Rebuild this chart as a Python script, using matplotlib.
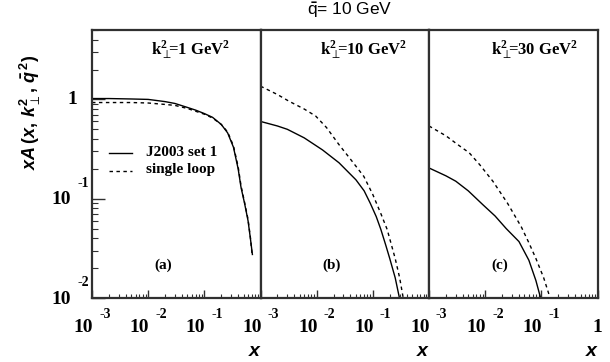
import matplotlib
matplotlib.use('Agg')
import matplotlib.pyplot as plt
import matplotlib.transforms as mtransforms
from matplotlib.lines import Line2D
from matplotlib.ticker import LogLocator, NullFormatter

plt.rcParams['mathtext.fontset'] = 'custom'
plt.rcParams['mathtext.rm'] = 'Liberation Sans:bold'
plt.rcParams['mathtext.it'] = 'Liberation Sans:bold:italic'
plt.rcParams['mathtext.bf'] = 'Liberation Serif:bold'
plt.rcParams['mathtext.sf'] = 'Liberation Sans'

# ---------------- data ----------------
panel_labels = ['(a)', '(b)', '(c)']
kt2_values = ['1', '10', '30']
series_names = ['J2003 set 1', 'single loop']

# panel (a) k_T^2 = 1 GeV^2
xa_j2003 = [0.001, 0.002, 0.005, 0.01, 0.02, 0.03, 0.05, 0.07, 0.1, 0.14, 0.2, 0.26, 0.33, 0.4, 0.45, 0.52, 0.6, 0.66, 0.72]
ya_j2003 = [1.02, 1.02, 1.01, 1.0, 0.95, 0.91, 0.83, 0.78, 0.72, 0.66, 0.56, 0.46, 0.33, 0.2, 0.13, 0.09, 0.06, 0.04, 0.027]
xa_loop = [0.001, 0.002, 0.005, 0.01, 0.02, 0.03, 0.05, 0.07, 0.1, 0.14, 0.2, 0.26, 0.33, 0.4, 0.45, 0.52, 0.6, 0.66, 0.71]
ya_loop = [0.93, 0.93, 0.93, 0.92, 0.89, 0.87, 0.81, 0.76, 0.71, 0.65, 0.56, 0.47, 0.34, 0.21, 0.135, 0.092, 0.062, 0.041, 0.027]

# panel (b) k_T^2 = 10 GeV^2
xb_j2003 = [0.001, 0.002, 0.003, 0.006, 0.0127, 0.025, 0.05, 0.07, 0.09, 0.115, 0.139, 0.17, 0.2, 0.25, 0.3]
yb_j2003 = [0.60, 0.54, 0.50, 0.41, 0.31, 0.23, 0.155, 0.12, 0.09, 0.066, 0.049, 0.034, 0.025, 0.016, 0.0098]
xb_loop = [0.001, 0.002, 0.0032, 0.006, 0.0096, 0.015, 0.025, 0.04, 0.069, 0.1, 0.14, 0.18, 0.25, 0.3, 0.35]
yb_loop = [1.36, 1.12, 0.96, 0.80, 0.68, 0.52, 0.35, 0.25, 0.168, 0.11, 0.07, 0.049, 0.025, 0.016, 0.0098]

# panel (c) k_T^2 = 30 GeV^2
xc_j2003 = [0.001, 0.002, 0.003, 0.005, 0.0091, 0.015, 0.0237, 0.04, 0.06, 0.08, 0.098]
yc_j2003 = [0.204, 0.17, 0.15, 0.12, 0.087, 0.067, 0.05, 0.037, 0.024, 0.015, 0.0098]
xc_loop = [0.001, 0.002, 0.0035, 0.0052, 0.008, 0.0137, 0.025, 0.044, 0.06, 0.08, 0.11, 0.145]
yc_loop = [0.54, 0.43, 0.34, 0.29, 0.22, 0.15, 0.09, 0.052, 0.036, 0.025, 0.016, 0.0098]

panels = [
    (xa_j2003, ya_j2003, xa_loop, ya_loop),
    (xb_j2003, yb_j2003, xb_loop, yb_loop),
    (xc_j2003, yc_j2003, xc_loop, yc_loop),
]
x_decades = [-3, -2, -1]

# ---------------- figure ----------------
W, H = 610, 362
fig = plt.figure(figsize=(W / 100, H / 100), dpi=100)

left, right, top, bottom = 92, 597.5, 30, 298
pw = (right - left) / 3
frame_col = '#303030'
serif_b = dict(family='Liberation Serif', weight='bold')


def off(dx, dy):
    return mtransforms.ScaledTranslation(dx / 100, -dy / 100, fig.dpi_scale_trans)


axes = []
for i, (xs, ys, xl, yl) in enumerate(panels):
    ax = fig.add_axes([(left + i * pw) / W, 1 - bottom / H, pw / W, (bottom - top) / H])
    axes.append(ax)
    ax.set_xscale('log')
    ax.set_yscale('log')
    ax.plot(xs, ys, color='black', lw=1.0, solid_capstyle='butt', solid_joinstyle='round')
    ax.plot(xl, yl, color='black', lw=1.0, linestyle=(0, (2.5, 2.5)))
    ax.set_xlim(1e-3, 1)
    ax.set_ylim(0.01, 5)
    for s in ax.spines.values():
        s.set_linewidth(1.6)
        s.set_color(frame_col)
    ax.xaxis.set_major_locator(LogLocator(base=10, numticks=10))
    ax.xaxis.set_minor_locator(LogLocator(base=10, subs=range(2, 10), numticks=20))
    ax.xaxis.set_minor_formatter(NullFormatter())
    ax.yaxis.set_minor_locator(LogLocator(base=10, subs=range(2, 10), numticks=20))
    ax.yaxis.set_minor_formatter(NullFormatter())
    ax.tick_params(which='both', direction='in', top=False, right=False,
                   labelbottom=False, labelleft=False, color=frame_col)
    ax.tick_params(axis='x', which='major', length=6, width=1)
    ax.tick_params(axis='x', which='minor', length=3, width=0.8)
    if i == 0:
        ax.tick_params(axis='y', which='major', length=9, width=1)
        ax.tick_params(axis='y', which='minor', length=4.5, width=0.8)
    else:
        ax.tick_params(axis='y', which='both', left=False)

    # x tick labels
    tx = ax.get_xaxis_transform()
    for d in x_decades:
        ax.text(10.0 ** d, 0, '10', transform=tx + off(1, 30), ha='right', va='center',
                fontsize=14, **serif_b)
        ax.text(10.0 ** d, 0, '%d' % d, transform=tx + off(7, 16), ha='left', va='center',
                fontsize=10, **serif_b)
    if i == 2:
        ax.text(1.0, 0, '1', transform=tx + off(0, 30), ha='center', va='center',
                fontsize=14, **serif_b)

    # x axis label
    ax.text(1.0, 0, 'x', transform=ax.transAxes + off(-1, 54), ha='right', va='center',
            fontsize=14, family='Liberation Sans', weight='bold', style='italic')

    # k_T^2 label
    ax.text(0, 1, r'k$^{\mathbf{2}}_{\perp}\!\!$=%s GeV$^{\mathbf{2}}$' % kt2_values[i],
            transform=ax.transAxes + off(98 + (5 if i == 1 else 0) + (8 if i == 2 else 0), 20),
            ha='center', va='center', fontsize=12, **serif_b)

    # panel label
    ax.text(0, 0, panel_labels[i], transform=ax.transAxes + off(71, -33),
            ha='center', va='center', fontsize=11, **serif_b)

# y tick labels on first panel
ax0 = axes[0]
ty = ax0.get_yaxis_transform()
ax0.text(0, 1.0, '1', transform=ty + off(-15, 0), ha='right', va='center', fontsize=14, **serif_b)
for d in [-1, -2]:
    ax0.text(0, 10.0 ** d, '10', transform=ty + off(-21, 1), ha='right', va='center',
             fontsize=14, **serif_b)
    ax0.text(0, 10.0 ** d, '%d' % d, transform=ty + off(-3, -15), ha='right', va='center',
             fontsize=10, **serif_b)

# legend (drawn in panel a)
for k, (ls, yy) in enumerate([('-', 153), ((0, (2.5, 2.5)), 171)]):
    fig.add_artist(Line2D([109 / W, 132 / W], [1 - yy / H] * 2, color='black', lw=1.0, linestyle=ls))
    fig.text(146 / W, 1 - (yy - 1) / H, series_names[k], ha='left', va='center', fontsize=11, **serif_b)

# y label
fig.text(30 / W, 1 - 112 / H, r'$xA\,(x,\,k^{2}_{\perp},\,\bar{q}^{\,2})$', rotation=90,
         ha='center', va='center', fontsize=13)

# title
fig.text(350 / W, 1 - 10 / H, r'$\bar{\mathsf{q}}$= 10 GeV', ha='center', va='center',
         fontsize=12.5, family='Liberation Sans')

fig.savefig('out.png', dpi=100)
